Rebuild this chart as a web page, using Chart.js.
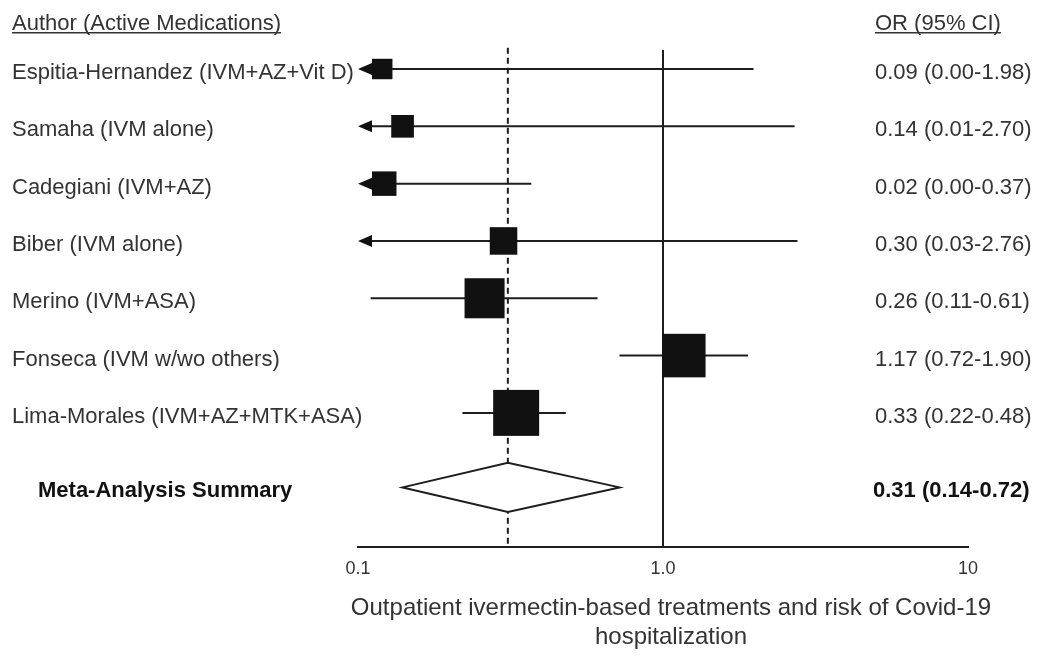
<!DOCTYPE html>
<html><head><meta charset="utf-8">
<script src="https://cdn.jsdelivr.net/npm/chart.js@4"></script>
<style>html,body{margin:0;padding:0;background:#fff}canvas{display:block}</style>
</head><body>
<canvas id="c" width="1041" height="656"></canvas>
<script>
const studies = ['Espitia-Hernandez (IVM+AZ+Vit D)', 'Samaha (IVM alone)', 'Cadegiani (IVM+AZ)', 'Biber (IVM alone)', 'Merino (IVM+ASA)', 'Fonseca (IVM w/wo others)', 'Lima-Morales (IVM+AZ+MTK+ASA)'];
const oddsRatio = [0.09, 0.14, 0.02, 0.30, 0.26, 1.17, 0.33];
const ciLower = [0.00, 0.01, 0.00, 0.03, 0.11, 0.72, 0.22];
const ciUpper = [1.98, 2.70, 0.37, 2.76, 0.61, 1.90, 0.48];
const weights = [5.3, 6.5, 7.6, 9.6, 20.3, 24.0, 26.8];
const summaryLabel = 'Meta-Analysis Summary';
const summaryValues = [0.31, 0.14, 0.72];
const tickValues = [0.1, 1, 10];
const tickLabels = ['0.1', '1.0', '10'];
const columnHeaders = ['Author (Active Medications)', 'OR (95% CI)'];
const axisTitle = ['Outpatient ivermectin-based treatments and risk of Covid-19', 'hospitalization'];

const FAMILY = '"Liberation Sans", Arial, Helvetica, sans-serif';
const TEXT = '#333';
const INK = '#1e1e1e';
const fmt = v => v.toFixed(2);

const forestPlugin = {
  id: 'forest',
  afterDatasetsDraw(chart) {
    const {ctx, chartArea: a, scales: {x, y}} = chart;
    const rowPx = Math.abs(y.getPixelForValue(1) - y.getPixelForValue(0));
    const xMin = x.getPixelForValue(x.min);
    const summaryRow = studies.length + 0.3;
    ctx.save();
    // reference lines
    ctx.strokeStyle = INK;
    ctx.lineWidth = 2;
    const p1 = x.getPixelForValue(1);
    ctx.beginPath(); ctx.moveTo(p1, y.getPixelForValue(-0.33)); ctx.lineTo(p1, a.bottom); ctx.stroke();
    ctx.setLineDash([6, 4]);
    const ps = x.getPixelForValue(summaryValues[0]);
    ctx.beginPath(); ctx.moveTo(ps, y.getPixelForValue(-0.37)); ctx.lineTo(ps, a.bottom); ctx.stroke();
    ctx.setLineDash([]);

    const arrowLen = 14, arrowHalf = 6;
    oddsRatio.forEach((or, i) => {
      const py = y.getPixelForValue(i);
      const clipped = ciLower[i] < x.min;
      const lo = clipped ? xMin + arrowLen : x.getPixelForValue(ciLower[i]);
      const hi = x.getPixelForValue(Math.min(ciUpper[i], x.max));
      ctx.strokeStyle = INK; ctx.lineWidth = 2;
      ctx.beginPath(); ctx.moveTo(lo, py); ctx.lineTo(hi, py); ctx.stroke();
      ctx.fillStyle = '#111';
      if (clipped) {
        ctx.beginPath();
        ctx.moveTo(xMin, py);
        ctx.lineTo(xMin + arrowLen, py - arrowHalf);
        ctx.lineTo(xMin + arrowLen, py + arrowHalf);
        ctx.closePath(); ctx.fill();
      }
      const side = 0.155 * rowPx * Math.sqrt(weights[i]);
      let cx = x.getPixelForValue(or);
      if (or < x.min) cx = xMin + arrowLen + side / 2;
      ctx.fillRect(cx - side / 2, py - side / 2, side, side);
    });

    // summary diamond
    const sy = y.getPixelForValue(summaryRow);
    const dh = 0.43 * rowPx;
    ctx.beginPath();
    ctx.moveTo(x.getPixelForValue(summaryValues[1]), sy);
    ctx.lineTo(ps, sy - dh);
    ctx.lineTo(x.getPixelForValue(summaryValues[2]), sy);
    ctx.lineTo(ps, sy + dh);
    ctx.closePath();
    ctx.fillStyle = '#fff'; ctx.fill();
    ctx.strokeStyle = INK; ctx.lineWidth = 2; ctx.stroke();

    // texts
    ctx.fillStyle = TEXT;
    ctx.textBaseline = 'alphabetic';
    ctx.textAlign = 'left';
    const leftX = 12, rightX = 875;
    const hy = y.getPixelForValue(-0.86) + 10;
    ctx.font = '22px ' + FAMILY;
    [[columnHeaders[0], leftX], [columnHeaders[1], rightX]].forEach(([t, tx]) => {
      ctx.fillText(t, tx, hy);
      const w = ctx.measureText(t).width;
      ctx.strokeStyle = TEXT; ctx.lineWidth = 1.5;
      ctx.beginPath(); ctx.moveTo(tx, hy + 3); ctx.lineTo(tx + w, hy + 3); ctx.stroke();
    });
    studies.forEach((s, i) => {
      const ty = y.getPixelForValue(i) + 10;
      ctx.fillText(s, leftX, ty);
      ctx.fillText(`${fmt(oddsRatio[i])} (${fmt(ciLower[i])}-${fmt(ciUpper[i])})`, rightX, ty);
    });
    ctx.font = 'bold 22px ' + FAMILY;
    ctx.fillStyle = '#111';
    ctx.fillText(summaryLabel, 38, sy + 10);
    ctx.fillText(`${fmt(summaryValues[0])} (${fmt(summaryValues[1])}-${fmt(summaryValues[2])})`, rightX - 2, sy + 10);

    // x-axis title (drawn without width constraint)
    ctx.font = '24px ' + FAMILY;
    ctx.fillStyle = TEXT;
    ctx.textAlign = 'center';
    ctx.textBaseline = 'middle';
    const tx = (a.left + a.right) / 2 + 8;
    axisTitle.forEach((line, k) => ctx.fillText(line, tx, a.bottom + 61 + 29 * k));
    ctx.restore();
  }
};

new Chart(document.getElementById('c'), {
  type: 'scatter',
  data: {
    datasets: [{
      label: 'OR',
      data: oddsRatio.map((v, i) => ({x: v, y: i})),
      pointRadius: 0,
      pointHoverRadius: 0
    }]
  },
  options: {
    responsive: false,
    animation: false,
    devicePixelRatio: 1,
    layout: {padding: {left: 358, right: 73, top: 11.7, bottom: 0}},
    plugins: {legend: {display: false}, tooltip: {enabled: false}},
    scales: {
      x: {
        type: 'logarithmic',
        position: 'bottom',
        min: 0.1,
        max: 10,
        afterBuildTicks: s => { s.ticks = tickValues.map(v => ({value: v})); },
        afterFit: s => { s.height = 109; },
        grid: {display: false, drawTicks: false},
        border: {display: true, color: INK, width: 2},
        ticks: {
          font: {size: 18, family: FAMILY}, color: TEXT, padding: 11,
          autoSkip: false, maxRotation: 0,
          callback: (v, i) => tickLabels[i]
        },
        title: {display: false}
      },
      y: {type: 'linear', min: -1, max: 8.34, reverse: true, display: false}
    }
  },
  plugins: [forestPlugin]
});
</script>
</body></html>
